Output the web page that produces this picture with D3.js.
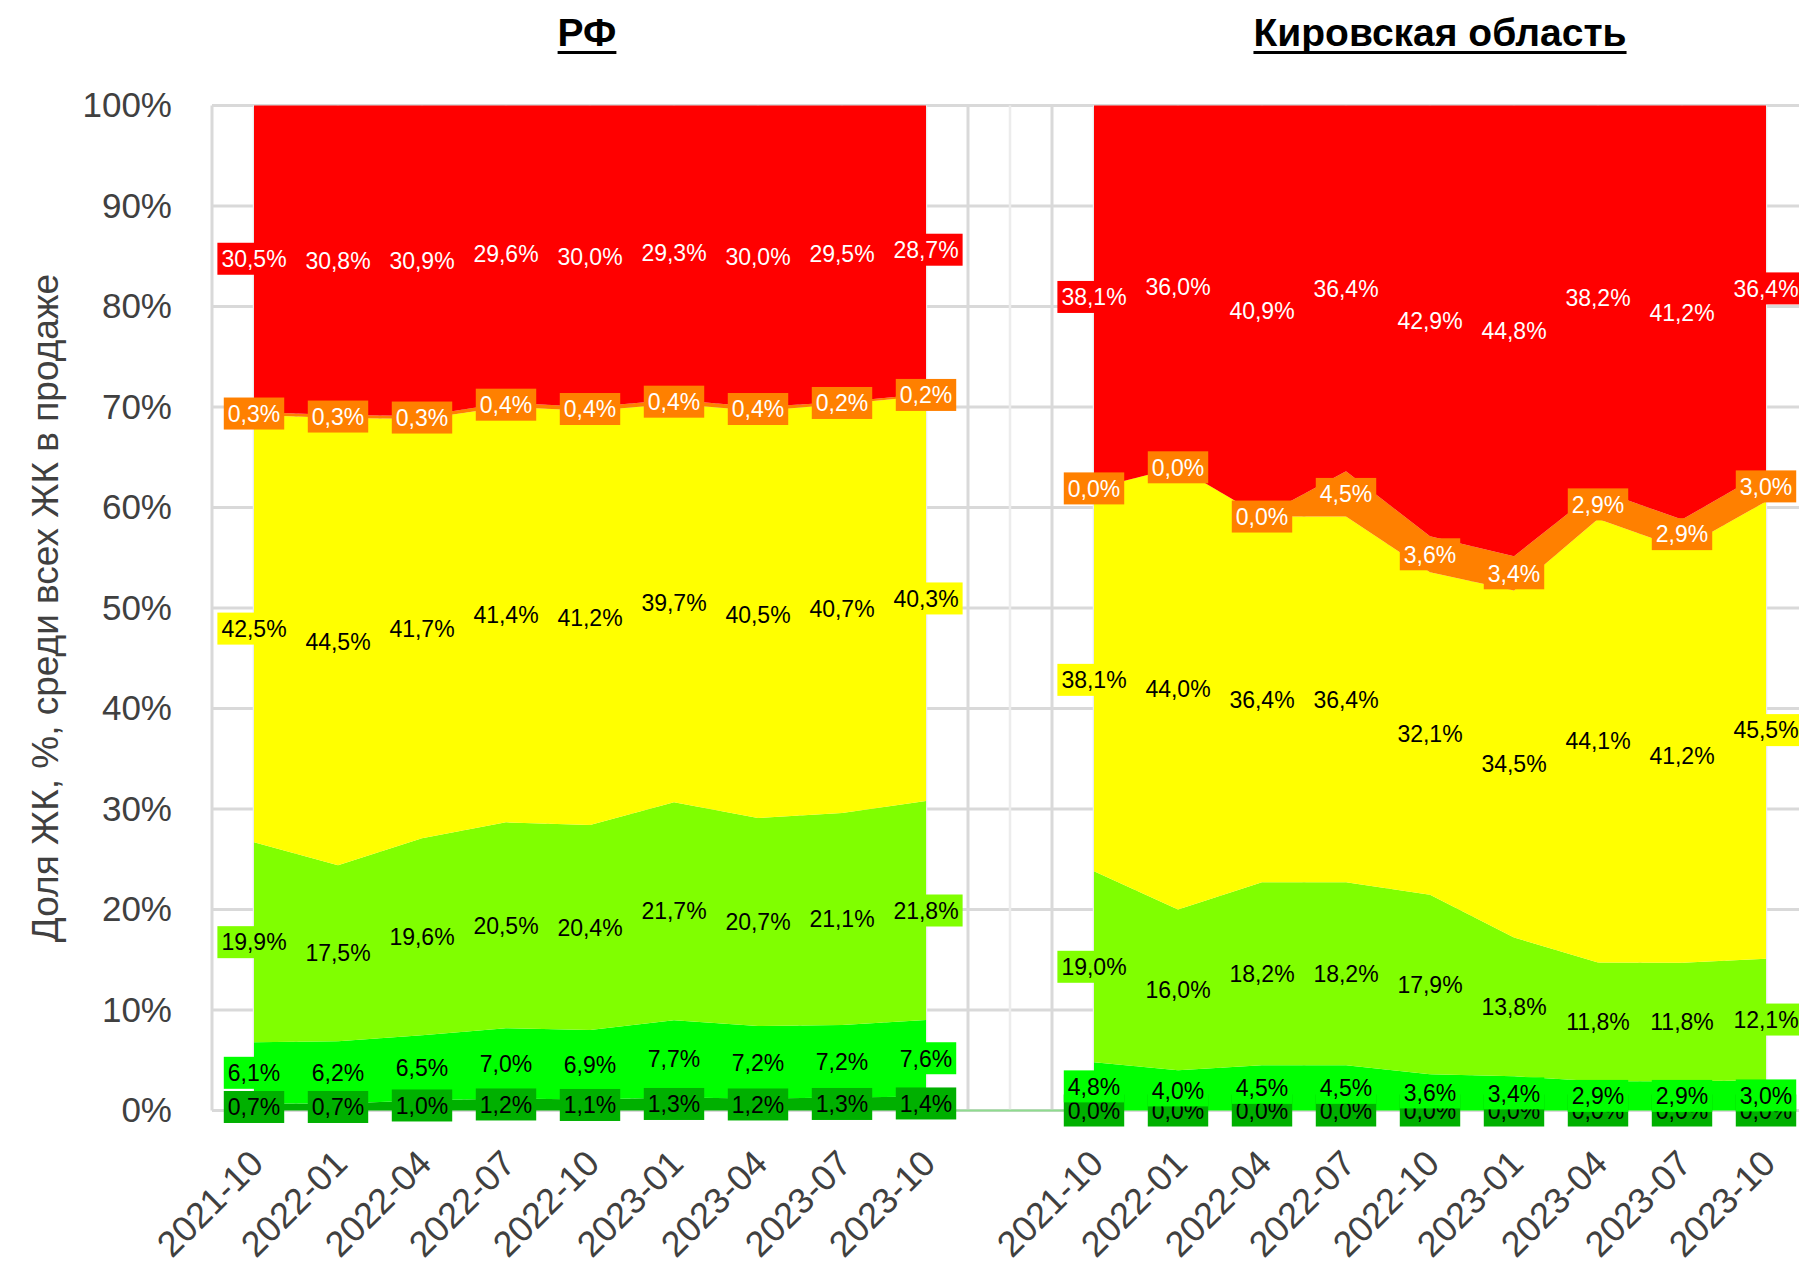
<!DOCTYPE html>
<meta charset="utf-8">
<style>
body { margin: 0; background: #fff; }
svg text { font-family: "Liberation Sans", Arial, sans-serif; }
</style>
<body>
<script src="https://d3js.org/d3.v7.min.js"></script>
<script>

// periods (same for both panels)
var periods = ["2021-10", "2022-01", "2022-04", "2022-07", "2022-10", "2023-01", "2023-04", "2023-07", "2023-10"];

// RF: share of ЖК by class, %, bottom to top
var rfDark   = [0.7, 0.7, 1.0, 1.2, 1.1, 1.3, 1.2, 1.3, 1.4];
var rfGreen  = [6.1, 6.2, 6.5, 7.0, 6.9, 7.7, 7.2, 7.2, 7.6];
var rfLime   = [19.9, 17.5, 19.6, 20.5, 20.4, 21.7, 20.7, 21.1, 21.8];
var rfYellow = [42.5, 44.5, 41.7, 41.4, 41.2, 39.7, 40.5, 40.7, 40.3];
var rfOrange = [0.3, 0.3, 0.3, 0.4, 0.4, 0.4, 0.4, 0.2, 0.2];
var rfRed    = [30.5, 30.8, 30.9, 29.6, 30.0, 29.3, 30.0, 29.5, 28.7];

// Кировская область
var kirDark   = [0.0, 0.0, 0.0, 0.0, 0.0, 0.0, 0.0, 0.0, 0.0];
var kirGreen  = [4.8, 4.0, 4.5, 4.5, 3.6, 3.4, 2.9, 2.9, 3.0];
var kirLime   = [19.0, 16.0, 18.2, 18.2, 17.9, 13.8, 11.8, 11.8, 12.1];
var kirYellow = [38.1, 44.0, 36.4, 36.4, 32.1, 34.5, 44.1, 41.2, 45.5];
var kirOrange = [0.0, 0.0, 0.0, 4.5, 3.6, 3.4, 2.9, 2.9, 3.0];
var kirRed    = [38.1, 36.0, 40.9, 36.4, 42.9, 44.8, 38.2, 41.2, 36.4];

var keys = ["dark", "green", "lime", "yellow", "orange", "red"];
var colors = {dark: "#00b000", green: "#00ff00", lime: "#80ff00", yellow: "#ffff00", orange: "#ff8000", red: "#ff0000"};
var labelInk = {dark: "#000", green: "#000", lime: "#000", yellow: "#000", orange: "#fff", red: "#fff"};

var titles = ["РФ", "Кировская область"];
var yTitle = "Доля ЖК, %, среди всех ЖК в продаже";

// build rows for each panel
function rows(prefix, cols) {
  return periods.map(function(p, i) {
    var r = {key: prefix + p, period: p};
    keys.forEach(function(k, j) { r[k] = cols[j][i]; });
    return r;
  });
}
var rfRows = rows("rf_", [rfDark, rfGreen, rfLime, rfYellow, rfOrange, rfRed]);
var kirRows = rows("kir_", [kirDark, kirGreen, kirLime, kirYellow, kirOrange, kirRed]);

// one category axis: RF, empty slot, Kirov
var allKeys = rfRows.map(d => d.key).concat(["gap"], kirRows.map(d => d.key));

var margin = {top: 105.5, left: 212},
    width = 1596,
    height = 1005;

var svg = d3.select("body").append("svg")
    .attr("width", 1799)
    .attr("height", 1267);

var g = svg.append("g").attr("transform", "translate(" + margin.left + "," + margin.top + ")");

var x = d3.scalePoint().domain(allKeys).range([0, width]).padding(0.5);
var y = d3.scaleLinear().domain([0, 1]).range([height, 0]);
var step = x.step();

// gridlines
var yTicks = d3.range(0, 11).map(d => d / 10);
g.selectAll(".hgrid").data(yTicks).enter().append("line")
    .attr("x1", 0).attr("x2", width)
    .attr("y1", d => y(d)).attr("y2", d => y(d))
    .attr("stroke", "#d9d9d9").attr("stroke-width", 3);

g.selectAll(".vminor").data(allKeys).enter().append("line")
    .attr("x1", d => x(d)).attr("x2", d => x(d))
    .attr("y1", 0).attr("y2", height)
    .attr("stroke", "#ececec").attr("stroke-width", 2.5);

g.selectAll(".vmajor").data(allKeys.concat(["end"])).enter().append("line")
    .attr("x1", (d, i) => i * step).attr("x2", (d, i) => i * step)
    .attr("y1", 0).attr("y2", height)
    .attr("stroke", "#d9d9d9").attr("stroke-width", 3);

// stacked 100% areas
var stack = d3.stack().keys(keys).offset(d3.stackOffsetExpand);
var area = d3.area()
    .x(d => x(d.data.key))
    .y0(d => y(d[0]))
    .y1(d => y(d[1]));

var rfStack = stack(rfRows);
var kirStack = stack(kirRows);

[rfStack, kirStack].forEach(function(st) {
  g.append("g").selectAll("path").data(st).enter().append("path")
      .attr("d", area)
      .attr("fill", d => colors[d.key]);
});

// thin baseline across the empty slot
var gapLine = d3.line().x(d => x(d.data.key)).y(d => y(d[0]));
g.append("path")
    .datum([rfStack[0][rfStack[0].length - 1], kirStack[0][0]])
    .attr("d", gapLine)
    .attr("fill", "none")
    .attr("stroke", "#8fdc8f")
    .attr("stroke-width", 2);

// data labels, series by series
var fmt = d3.format(".1f");
var labels = g.append("g");
keys.forEach(function(k, j) {
  [[rfStack, rfRows], [kirStack, kirRows]].forEach(function(pair) {
    pair[0][j].forEach(function(d, i) {
      var lg = labels.append("g")
          .attr("transform", "translate(" + x(d.data.key) + "," + y((d[0] + d[1]) / 2) + ")");
      var t = lg.append("text")
          .attr("text-anchor", "middle")
          .attr("dy", "0.36em")
          .attr("font-size", 23)
          .attr("fill", labelInk[k])
          .text(fmt(pair[1][i][k]).replace(".", ",") + "%");
      var w = t.node().getComputedTextLength() + 8;
      lg.insert("rect", "text")
          .attr("x", -w / 2).attr("y", -16)
          .attr("width", w).attr("height", 32)
          .attr("fill", colors[k]);
    });
  });
});

// Y axis
var yAxis = g.append("g")
    .call(d3.axisLeft(y).tickValues(yTicks).tickFormat(d3.format(".0%")).tickSize(0).tickPadding(40));
yAxis.select(".domain").remove();
yAxis.selectAll("text").attr("font-size", 35).attr("fill", "#404040");

// X axis
var xAxis = g.append("g")
    .attr("transform", "translate(0," + height + ")")
    .call(d3.axisBottom(x).tickValues(allKeys.filter(k => k !== "gap"))
      .tickFormat(k => k.split("_")[1]).tickSize(0));
xAxis.select(".domain").remove();
xAxis.selectAll("text")
    .attr("font-size", 36)
    .attr("fill", "#404040")
    .attr("text-anchor", "end")
    .attr("y", 0).attr("dy", 0)
    .attr("transform", "translate(11,55) rotate(-45)");

// axis title
svg.append("text")
    .attr("transform", "translate(58," + (margin.top + height / 2) + ") rotate(-90)")
    .attr("text-anchor", "middle")
    .attr("font-size", 37)
    .attr("fill", "#404040")
    .text(yTitle);

// panel titles, underlined
[[titles[0], 587], [titles[1], 1440]].forEach(function(tt) {
  var t = svg.append("text")
      .attr("x", tt[1]).attr("y", 46)
      .attr("text-anchor", "middle")
      .attr("font-size", 39)
      .attr("font-weight", "bold")
      .attr("fill", "#000")
      .text(tt[0]);
  var w = t.node().getComputedTextLength();
  svg.append("rect")
      .attr("x", tt[1] - w / 2).attr("y", 51)
      .attr("width", w).attr("height", 3)
      .attr("fill", "#000");
});

</script>
</body>
